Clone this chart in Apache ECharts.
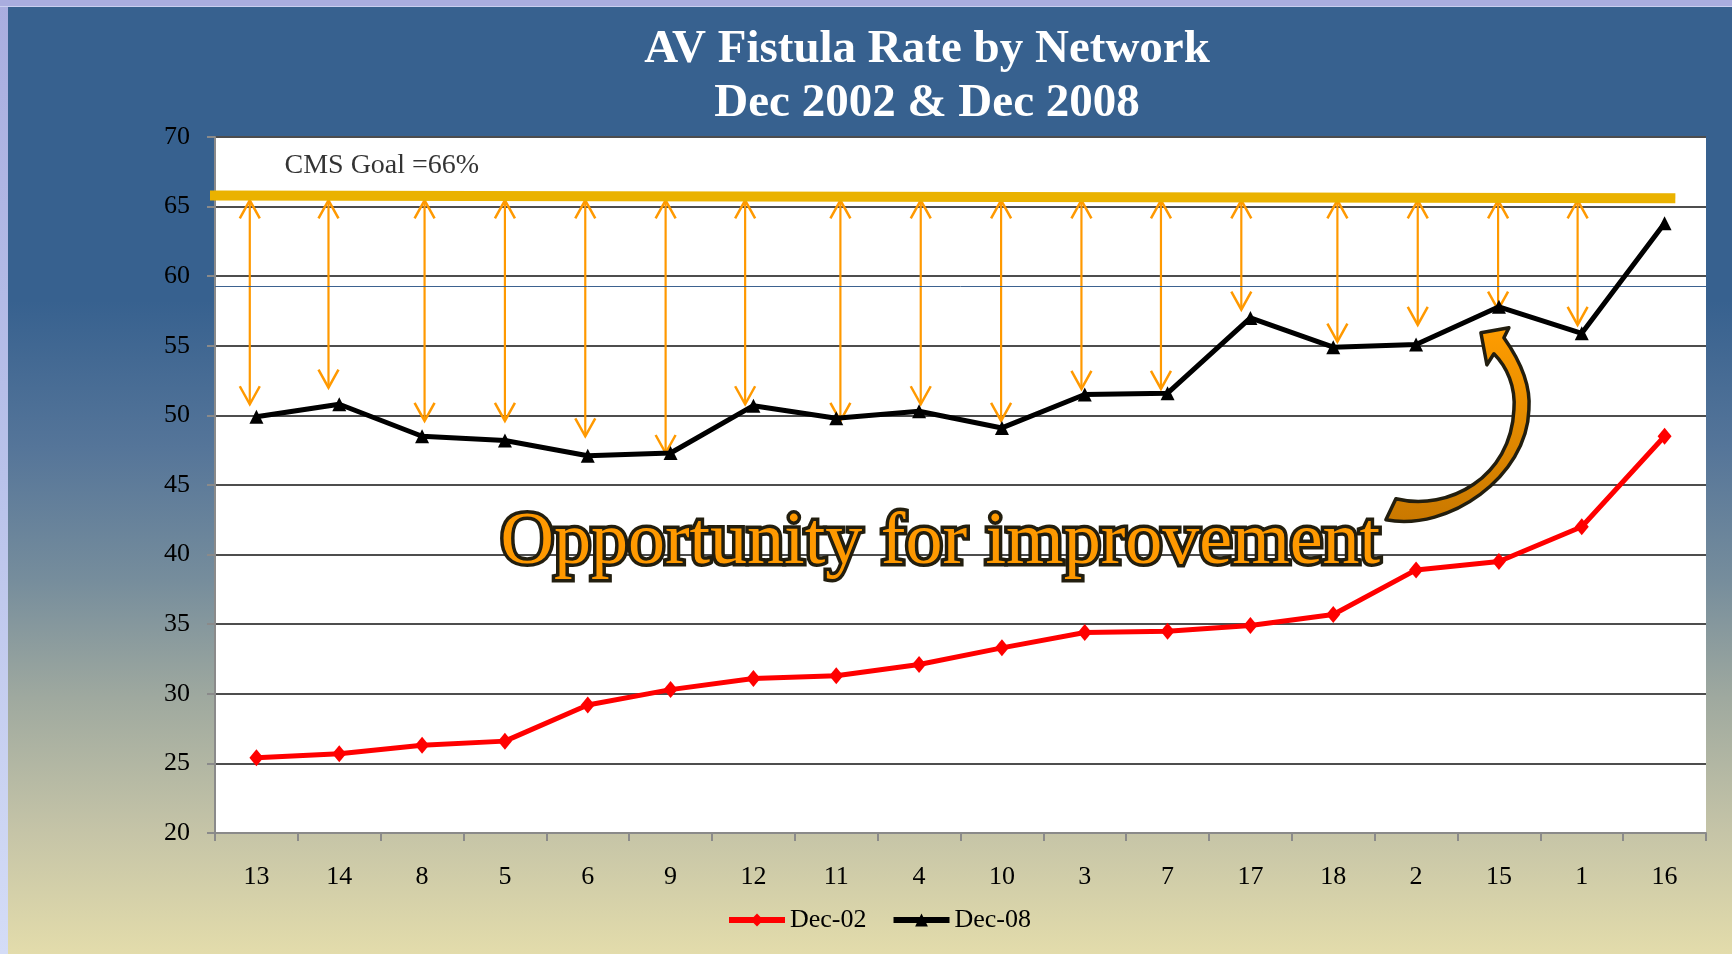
<!DOCTYPE html>
<html><head><meta charset="utf-8">
<script src="https://cdn.jsdelivr.net/npm/echarts@6/dist/echarts.min.js"></script>
<style>
html,body{margin:0;padding:0;width:1732px;height:954px;overflow:hidden;}
body{background:linear-gradient(to bottom,#a9addf 0%,#b9c2ea 50%,#d4dcf6 100%);}
#topstrip{position:absolute;left:0;top:0;width:1732px;height:7px;background:#a9addf;border-bottom:1px solid #c9cff0;box-sizing:border-box;}
#bg{position:absolute;left:8px;top:7px;width:1724px;height:947px;
background:linear-gradient(to bottom,#37618f 0%,#37618f 31%,#557599 46.5%,#768d9c 60.5%,#9fa99f 73%,#c5c4a7 87%,#e3dcab 100%);}
#chart{position:absolute;left:0;top:0;width:1732px;height:954px;}
</style>
</head><body>
<div id="topstrip"></div>
<div id="bg"></div>
<div id="chart"></div>
<script>
// ---- data ----
const categories = ['13','14','8','5','6','9','12','11','4','10','3','7','17','18','2','15','1','16'];
const dec02 = [25.4,25.7,26.3,26.6,29.2,30.3,31.1,31.3,32.1,33.3,34.4,34.5,34.9,35.7,38.9,39.5,42.0,48.5];
const dec08 = [49.9,50.8,48.5,48.2,47.1,47.3,50.7,49.8,50.3,49.1,51.5,51.6,57.0,54.9,55.1,57.8,55.9,63.8];
const yMin = 20, yMax = 70, yStep = 5;
const goalLine = [[-0.175, 65.8], [17.63, 65.6]];
const gapArrowX = [0.42,1.37,2.53,3.50,4.47,5.44,6.40,7.55,8.52,9.49,10.46,11.42,12.39,13.55,14.52,15.49,16.45];
const gapArrowBottom = [50.8,52.0,49.6,49.6,48.5,47.3,50.8,49.6,50.8,49.6,51.9,51.9,57.6,55.3,56.5,57.6,56.5];
const gapArrowTop = 65.45;
const refLineValue = 59.3;
const calloutTarget = '15';
const goalText = 'CMS Goal =66%';
const noteText = 'Opportunity for improvement';
const titleText = 'AV Fistula Rate by Network\nDec 2002 & Dec 2008';

const serif = "'Liberation Serif','Times New Roman',serif";
const chart = echarts.init(document.getElementById('chart'), null, {renderer:'canvas'});

const arrowData = gapArrowX.map((x,i)=>[x, gapArrowTop, gapArrowBottom[i]]);
const tIdx = categories.indexOf(calloutTarget);

const option = {
  backgroundColor: 'transparent',
  animation: false,
  title: {
    text: titleText, left: 927, top: 23, textAlign: 'center', padding: 0,
    textStyle: {color:'#fff', fontFamily: serif, fontWeight:'bold', fontSize:47, lineHeight:54}
  },
  legend: {
    data: ['Dec-02','Dec-08'], left: 726, top: 907, padding: 0,
    itemWidth: 56, itemHeight: 16, itemGap: 24,
    lineStyle: {width: 6},
    textStyle: {color:'#000', fontFamily: serif, fontSize: 26}
  },
  grid: {left:215, right:26, top:137, bottom:121, show:true, backgroundColor:'#fff', borderWidth:0},
  xAxis: [{
    type:'category', data: categories, boundaryGap:true,
    axisLine:{show:true, lineStyle:{color:'#8a8a8a', width:2}},
    axisTick:{show:true, length:8, interval:0, lineStyle:{color:'#8a8a8a', width:2}},
    axisLabel:{interval:0, margin:31, color:'#000', fontFamily:serif, fontSize:26},
    splitLine:{show:false}
  },{
    type:'value', min:0, max:categories.length, show:false
  }],
  yAxis: {
    type:'value', min:yMin, max:yMax, interval:yStep,
    axisLine:{show:true, lineStyle:{color:'#8a8a8a', width:2}},
    axisTick:{show:true, length:8, lineStyle:{color:'#8a8a8a', width:2}},
    axisLabel:{margin:25, color:'#000', fontFamily:serif, fontSize:26},
    splitLine:{show:true, lineStyle:{color:'#4d4d4d', width:2}}
  },
  series: [
    {
      name:'gap', type:'custom', xAxisIndex:1, data: arrowData, z:3, silent:true,
      renderItem: function(params, api){
        const t = api.coord([api.value(0), api.value(1)]);
        const b = api.coord([api.value(0), api.value(2)]);
        const hw = 10, hh = 18;
        const style = {stroke:'#ff9900', lineWidth:2.5, fill:null};
        return {type:'group', children:[
          {type:'line', shape:{x1:t[0], y1:t[1], x2:b[0], y2:b[1]}, style:{stroke:'#ff9900', lineWidth:2.2}},
          {type:'polyline', shape:{points:[[t[0]-hw,t[1]+hh],[t[0],t[1]],[t[0]+hw,t[1]+hh]]}, style: style},
          {type:'polyline', shape:{points:[[b[0]-hw,b[1]-hh],[b[0],b[1]],[b[0]+hw,b[1]-hh]]}, style: style}
        ]};
      }
    },
    {
      name:'goal', type:'line', xAxisIndex:1, data: goalLine, symbol:'none', clip:false, z:4, silent:true,
      lineStyle:{color:'#eab200', width:10, cap:'butt'}
    },
    {
      name:'Dec-02', type:'line', data: dec02, z:5,
      symbol:'diamond', symbolSize:[14,17],
      itemStyle:{color:'#ff0000'}, lineStyle:{color:'#ff0000', width:5}
    },
    {
      name:'Dec-08', type:'line', data: dec08, z:5,
      symbol:'triangle', symbolSize:14,
      itemStyle:{color:'#000'}, lineStyle:{color:'#000', width:5},
      markLine:{silent:true, symbol:'none', label:{show:false},
        lineStyle:{color:'#3d6290', width:1, type:'solid'}, data:[{yAxis: refLineValue}]}
    },
    {
      name:'goalLabel', type:'scatter', xAxisIndex:1, data:[[0.833, 67.95]], symbolSize:1, z:6, silent:true,
      itemStyle:{color:'rgba(0,0,0,0)'},
      label:{show:true, position:'right', distance:0, formatter: goalText,
        color:'#000', fontFamily:serif, fontSize:28}
    },
    {
      name:'callout', type:'custom', data:[[tIdx, dec08[tIdx]]], z:20, silent:true, clip:false,
      renderItem: function(params, api){
        const p = api.coord([api.value(0), api.value(1)]);
        const ax = p[0], ay = p[1];
        const P = (dx,dy)=> (ax+dx).toFixed(1)+' '+(ay+dy).toFixed(1);
        const d = 'M'+P(-18,26)+' L'+P(10,21)+' L'+P(5,31)+
          ' C'+P(22,55)+' '+P(32,80)+' '+P(30,103)+
          ' C'+P(28,170)+' '+P(-50,225)+' '+P(-113,213)+
          ' L'+P(-103,192)+
          ' C'+P(-50,205)+' '+P(12,170)+' '+P(15,103)+
          ' C'+P(17,80)+' '+P(8,60)+' '+P(-5,47)+
          ' L'+P(-12,58)+' Z';
        return {
          type:'path', shape:{pathData:d},
          style:{
            fill:{type:'linear', x:0, y:0, x2:0, y2:1, colorStops:[{offset:0,color:'#ff9d00'},{offset:1,color:'#c97800'}]},
            stroke:'#221e0f', lineWidth:3.5, lineJoin:'round'
          }
        };
      }
    }
  ]
};
chart.setOption(option);

// annotation text, anchored in data space
const np = chart.convertToPixel({xAxisIndex:1, yAxisIndex:0}, [8.756, 40.8]);
const noteFont = {text: noteText, x: np[0], y: np[1], align:'center', verticalAlign:'middle',
  fontFamily: serif, fontSize: 74};
chart.setOption({graphic:[
  {type:'text', z:100, silent:true,
   style: Object.assign({}, noteFont, {fill:'#221e0f', stroke:'#221e0f', lineWidth:7, lineJoin:'round'})},
  {type:'text', z:101, silent:true,
   style: Object.assign({}, noteFont, {fill:'#ff9900'})}
]});
</script>
</body></html>
